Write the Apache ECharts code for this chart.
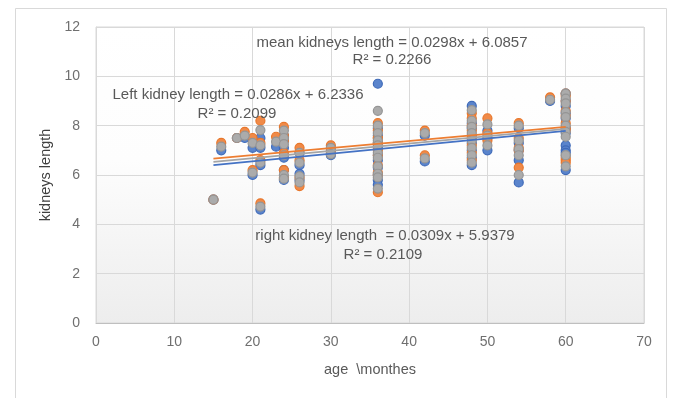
<!DOCTYPE html>
<html>
<head>
<meta charset="utf-8">
<script src="https://cdn.jsdelivr.net/npm/echarts@6/dist/echarts.min.js"></script>
<style>
html,body{margin:0;padding:0;background:#fff;}
#chart{width:673px;height:398px;}
</style>
</head>
<body>
<div id="chart"></div>
<script>
// Data
const ages        = [15, 16, 18, 19, 20, 20, 21, 21, 21, 21, 23, 24, 24, 24, 24, 24, 24, 26, 26, 26, 26, 30, 30,
                     36, 36, 36, 36, 36, 36, 36, 36, 36, 36, 36, 42, 42, 48, 48, 48, 48, 48, 48, 48, 48,
                     50, 50, 50, 54, 54, 54, 54, 54, 58, 60, 60, 60, 60, 60, 60, 60, 60, 60, 60, 60];
const rightKidney = [5.0, 7.0, 7.5, 7.5, 7.1, 6.0, 7.5, 7.1, 6.4, 4.6, 7.15, 7.6, 7.4, 7.1, 6.7, 6.2, 5.8, 6.9, 6.4, 6.05, 5.8, 7.0, 6.8,
                     9.7, 7.9, 7.6, 7.3, 7.1, 6.8, 6.6, 6.3, 6.0, 5.8, 5.6, 7.6, 6.55, 8.8, 8.1, 7.9, 7.6, 7.3, 7.0, 6.7, 6.4,
                     7.8, 7.5, 7.0, 7.9, 7.3, 7.0, 6.6, 5.7, 9.0, 9.3, 9.0, 8.8, 8.5, 8.3, 7.9, 7.7, 7.2, 7.0, 6.9, 6.2];
const leftKidney  = [5.0, 7.3, 7.5, 7.75, 7.5, 6.2, 8.2, 7.3, 6.6, 4.85, 7.55, 7.95, 7.6, 7.4, 6.9, 6.2, 5.9, 7.1, 6.6, 5.9, 5.55, 7.2, 6.9,
                     7.5, 8.1, 7.8, 7.5, 7.3, 7.0, 6.8, 6.4, 6.1, 6.0, 5.3, 7.8, 6.8, 8.5, 8.3, 8.0, 7.8, 7.5, 7.2, 6.9, 6.6,
                     8.3, 7.7, 7.4, 8.1, 7.5, 7.1, 7.0, 6.3, 9.15, 9.3, 9.2, 9.0, 8.6, 8.4, 8.1, 7.8, 7.9, 6.6, 6.7, 6.5];
const meanKidney  = [5.0, 7.15, 7.5, 7.6, 7.3, 6.1, 7.82, 7.2, 6.5, 4.72, 7.35, 7.8, 7.5, 7.25, 6.8, 6.0, 5.85, 6.9, 6.5, 5.95, 5.7, 7.1, 6.85,
                     8.6, 8.0, 7.7, 7.4, 7.2, 6.9, 6.7, 6.35, 6.05, 5.9, 5.45, 7.7, 6.67, 8.63, 8.2, 7.95, 7.7, 7.4, 7.1, 6.8, 6.5,
                     8.05, 7.6, 7.2, 8.0, 7.4, 7.05, 6.8, 6.0, 9.05, 9.3, 9.1, 8.9, 8.55, 8.35, 8.0, 7.75, 7.55, 6.8, 6.8, 6.35];

// Linear trendline endpoints (x = 15 and x = 60), from the equations shown
const trendAges  = [15, 60];
const rightTrend = [6.40, 7.79];
const leftTrend  = [6.66, 7.95];
const meanTrend  = [6.53, 7.87];

const xTicks = [0, 10, 20, 30, 40, 50, 60, 70];
const yTicks = [0, 2, 4, 6, 8, 10, 12];

const pair = (xs, ys) => xs.map((x, i) => [x, ys[i]]);

const FONT = 'Liberation Sans';
const TXT = '#595959';
const TICK = '#6f6f6f';
const AF = '15px ' + FONT;

const chart = echarts.init(document.getElementById('chart'), null, {renderer: 'canvas'});

function scatter(name, data, fill, border) {
  return {
    name, type: 'scatter', data, symbol: 'circle', symbolSize: 9, z: 2,
    itemStyle: {color: fill, borderColor: border, borderWidth: 1.2, opacity: 1},
    emphasis: {disabled: true}
  };
}
function trend(name, data, color) {
  return {
    name, type: 'line', data, symbol: 'none', z: 5,
    lineStyle: {color, width: 1.8}, emphasis: {disabled: true}
  };
}

chart.setOption({
  animation: false,
  backgroundColor: '#ffffff',
  textStyle: {fontFamily: FONT},
  graphic: [
    {type: 'rect', z: -10, silent: true, shape: {x: 15.5, y: 8.5, width: 651, height: 400},
     style: {fill: 'none', stroke: '#d9d9d9', lineWidth: 1}},
    {type: 'text', z: 10, x: 392, y: 43, style: {text: 'mean kidneys length = 0.0298x + 6.0857', fill: TXT, font: AF, align: 'center', verticalAlign: 'middle'}},
    {type: 'text', z: 10, x: 392, y: 60, style: {text: 'R² = 0.2266', fill: TXT, font: AF, align: 'center', verticalAlign: 'middle'}},
    {type: 'text', z: 10, x: 238, y: 95, style: {text: 'Left kidney length = 0.0286x + 6.2336', fill: TXT, font: AF, align: 'center', verticalAlign: 'middle'}},
    {type: 'text', z: 10, x: 237, y: 114, style: {text: 'R² = 0.2099', fill: TXT, font: AF, align: 'center', verticalAlign: 'middle'}},
    {type: 'text', z: 10, x: 385, y: 236, style: {text: 'right kidney length  = 0.0309x + 5.9379', fill: TXT, font: AF, align: 'center', verticalAlign: 'middle'}},
    {type: 'text', z: 10, x: 383, y: 255, style: {text: 'R² = 0.2109', fill: TXT, font: AF, align: 'center', verticalAlign: 'middle'}}
  ],
  grid: {
    left: 96, right: 29, top: 27, bottom: 75, show: true, borderColor: '#d9d9d9', borderWidth: 1,
    backgroundColor: new echarts.graphic.LinearGradient(0, 0, 0, 1, [
      {offset: 0, color: '#ffffff'}, {offset: 0.45, color: '#fdfdfd'}, {offset: 1, color: '#ededed'}
    ])
  },
  xAxis: {
    type: 'value', min: xTicks[0], max: xTicks[xTicks.length - 1], interval: 10,
    name: 'age  \\monthes', nameLocation: 'middle', nameGap: 39,
    nameTextStyle: {color: TXT, fontSize: 14.5, fontFamily: FONT},
    axisLine: {show: true, lineStyle: {color: '#bfbfbf'}},
    axisTick: {show: false},
    axisLabel: {color: TICK, fontSize: 14, fontFamily: FONT, margin: 12},
    splitLine: {show: true, lineStyle: {color: '#d9d9d9', width: 1}}
  },
  yAxis: {
    type: 'value', min: yTicks[0], max: yTicks[yTicks.length - 1], interval: 2,
    name: 'kidneys length', nameLocation: 'middle', nameGap: 37,
    nameTextStyle: {color: '#404040', fontSize: 14.5, fontFamily: FONT},
    axisLine: {show: true, lineStyle: {color: '#d9d9d9'}},
    axisTick: {show: false},
    axisLabel: {color: TICK, fontSize: 14, fontFamily: FONT, margin: 16},
    splitLine: {show: true, lineStyle: {color: '#d9d9d9', width: 1}}
  },
  series: [
    scatter('right kidney length', pair(ages, rightKidney), '#5a84cc', '#3f6ab8'),
    scatter('Left kidney length', pair(ages, leftKidney), '#f08a48', '#e8772c'),
    scatter('mean kidneys length', pair(ages, meanKidney), '#ababab', '#959595'),
    trend('right trend', pair(trendAges, rightTrend), '#4472C4'),
    trend('left trend', pair(trendAges, leftTrend), '#ED7D31'),
    trend('mean trend', pair(trendAges, meanTrend), '#A5A5A5')
  ]
});
</script>
</body>
</html>
